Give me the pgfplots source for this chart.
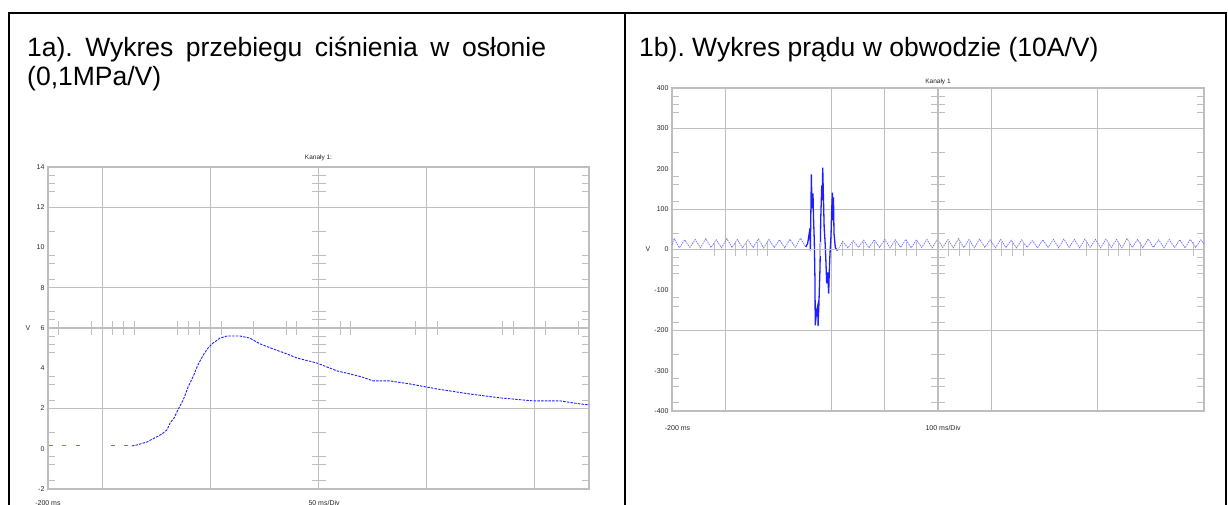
\documentclass[border=0pt]{standalone}
\usepackage{pgfplots}
\pgfplotsset{compat=1.18}
\usepackage{fontspec}
\setmainfont{Liberation Sans}
\frenchspacing
\definecolor{gridgray}{RGB}{190,190,190}
\definecolor{trace}{RGB}{30,30,255}
\definecolor{tracelight}{RGB}{110,110,255}
\pgfplotsset{
  osc/.style={
    scale only axis,
    axis line style={gridgray, line width=1.2pt},
    tick style={gridgray, line width=1pt},
    tick align=inside,
    xtick=\empty,
    major tick length=0pt,
    minor tick length=7pt,
    grid style={gridgray, line width=1pt},
    ticklabel style={font=\fontsize{7}{7}\selectfont, text=black!85},
    extra x tick labels={}, extra y tick labels={},
    extra tick style={grid=major, major tick length=0pt},
    title style={font=\fontsize{6.5}{6.5}\selectfont, text=black!85},
  },
  mid/.style={
    scale only axis,
    axis lines=middle,
    axis line style={gridgray, line width=1.2pt, -},
    tick style={gridgray, line width=1pt},
    major tick length=14pt,
    tick align=center,
    xticklabels={}, yticklabels={},
  },
}
\begin{document}
\begin{tikzpicture}
\useasboundingbox (0pt,0pt) rectangle (1228pt,505pt);
% table frame
\draw[line width=2.2pt] (9pt,-5pt) -- (9pt,492pt) -- (1226pt,492pt) -- (1226pt,-5pt);
\draw[line width=2.2pt] (625pt,492pt) -- (625pt,-5pt);
% headings
\node[anchor=base west, inner sep=0pt, font=\fontsize{26.5}{32}\selectfont] at (27pt,448pt) {\makebox[519pt][s]{1a). Wykres przebiegu ciśnienia w osłonie}};
\node[anchor=base west, inner sep=0pt, font=\fontsize{26.5}{32}\selectfont] at (27pt,419pt) {(0,1MPa/V)};
\node[anchor=base west, inner sep=0pt, font=\fontsize{26.5}{32}\selectfont] at (639pt,448pt) {1b). Wykres prądu w obwodzie (10A/V)};

% ---------------- left plot ----------------
\begin{axis}[osc, width=541pt, height=322pt, at={(48pt,16pt)}, anchor=south west,
  xmin=0, xmax=10, ymin=-2, ymax=14,
  minor xtick={0.2,0.8,1.2,1.4,1.6,2.4,2.6,2.8,3.2,3.8,4.4,4.6,5.4,5.6,6.8,7.2,8.4,8.6,9.2,9.8},
  ytick={-2,0,2,4,6,8,10,12,14},
  yticklabels={-2,0,2,4,6,8,10,12,14},
  minor ytick={13.6,13.2,12.8,10.8,9.6,9.2,8.4,6.8,6.4,5.6,5.2,4.8,3.6,3.2,2.4,0.8,-0.4,-0.8,-1.6},
  extra x ticks={1,3,7,9},
  extra y ticks={2,8,12},
  title={Kanały 1:}, title style={at={(0.5,1)}, anchor=base, yshift=1.5pt},
  clip=false]
\addplot[only marks, mark=-, mark size=2pt, color=tracelight, mark options={line width=1pt}]
  coordinates {(0.05,0.14) (0.3,0.14) (0.55,0.14) (1.2,0.14) (1.45,0.14)};
\addplot[color=trace, line width=0.9pt, dash pattern=on 2.5pt off 1.2pt] coordinates {
(1.55,0.14)(1.65,0.19)(1.83,0.34)(2.01,0.59)(2.11,0.74)(2.20,0.94)(2.26,1.29)(2.33,1.53)
(2.40,1.93)(2.50,2.43)(2.59,3.07)(2.68,3.57)(2.77,4.16)(2.87,4.66)(2.96,5.01)(3.03,5.21)
(3.18,5.50)(3.31,5.60)(3.55,5.60)(3.73,5.50)(3.92,5.21)(4.16,4.96)(4.42,4.71)(4.60,4.51)
(4.97,4.26)(5.34,3.87)(5.58,3.72)(5.80,3.57)(6.01,3.37)(6.32,3.37)(6.69,3.22)(7.19,2.97)
(7.80,2.72)(8.35,2.53)(8.96,2.38)(9.46,2.38)(9.83,2.23)(10.0,2.18)};
\node[anchor=center, font=\fontsize{7}{7}\selectfont, text=black!85] at (axis description cs:-0.037,0.5) {V};
\node[anchor=west, font=\fontsize{7}{7}\selectfont, text=black!85] at (axis description cs:-0.03,-0.043) {-200 ms};
\node[anchor=west, font=\fontsize{7}{7}\selectfont, text=black!85] at (axis description cs:0.475,-0.043) {50 ms/Div};
\end{axis}
\begin{axis}[mid, width=541pt, height=322pt, at={(48pt,16pt)}, anchor=south west,
  xmin=-5, xmax=5, ymin=-8, ymax=8,
  xtick={-4.8,-4.2,-3.8,-3.6,-3.4,-2.6,-2.4,-2.2,-1.8,-1.2,-0.6,-0.4,0.4,0.6,1.8,2.2,3.4,3.6,4.2,4.8},
  ytick={7.6,7.2,6.8,4.8,3.6,3.2,2.4,0.8,0.4,-0.4,-0.8,-1.2,-2.4,-2.8,-3.6,-5.2,-6.4,-6.8,-7.6}]
\end{axis}

% ---------------- right plot ----------------
\begin{axis}[osc, width=532pt, height=323pt, at={(672pt,94pt)}, anchor=south west,
  xmin=0, xmax=10, ymin=-400, ymax=400,
  minor xtick={0.8,1.2,1.4,1.6,1.8,2.8,3.2,3.4,3.6,3.8,4.2,4.4,4.6,5.2,5.4,5.6,6.2,6.4,6.6,7.8,8.2,8.4,8.6,8.8,9.8},
  ytick={-400,-300,-200,-100,0,100,200,300,400},
  yticklabels={-400,-300,-200,-100,0,100,200,300,400},
  minor ytick={380,360,340,240,180,160,120,40,-20,-40,-60,-120,-140,-180,-260,-320,-340,-380},
  extra x ticks={1,3,4,6,8},
  extra y ticks={300,100,-200},
  title={Kanały 1}, title style={at={(0.5,1)}, anchor=base, yshift=-1.5pt},
  clip=false]
\addplot[color=tracelight, line width=0.7pt, dash pattern=on 1.6pt off 0.9pt] coordinates {
(0.00,12)(0.040,27)(0.139,4)(0.238,24)(0.337,5)(0.436,25)(0.535,4)(0.634,27)(0.733,5)
(0.832,24)(0.931,4)(1.030,27)(1.129,5)(1.228,25)(1.327,4)(1.426,24)(1.525,5)(1.624,26)
(1.723,4)(1.822,25)(1.921,5)(2.020,24)(2.119,4)(2.218,25)(2.317,5)(2.416,28)(2.515,6)};
\addplot[color=trace, line width=1.3pt] coordinates {
(2.515,6)(2.55,15)(2.585,45)(2.594,40)(2.600,-2)(2.620,186)(2.630,102)(2.650,139)(2.660,79)
(2.675,20)(2.688,-82)(2.692,-188)(2.720,-150)(2.739,-139)(2.745,-190)(2.760,-140)(2.782,-45)
(2.790,22)(2.795,72)(2.815,159)(2.825,122)(2.833,203)(2.840,164)(2.860,55)(2.876,22)
(2.890,-20)(2.908,-84)(2.925,-57)(2.945,-109)(2.955,-60)(2.970,-10)(2.989,35)(3.000,92)
(3.015,141)(3.021,72)(3.035,129)(3.045,40)(3.070,5)(3.109,-3)};
\addplot[color=tracelight, line width=0.7pt, dash pattern=on 1.6pt off 0.9pt] coordinates {
(3.109,-3)(3.208,20)(3.307,4)(3.406,22)(3.505,5)(3.604,23)(3.703,4)(3.802,24)(3.901,5)
(4.000,25)(4.099,4)(4.198,24)(4.297,5)(4.396,25)(4.495,4)(4.594,24)(4.693,5)(4.792,25)
(4.891,4)(4.990,26)(5.089,5)(5.188,25)(5.287,4)(5.386,27)(5.485,5)(5.584,25)(5.683,4)
(5.782,26)(5.881,5)(5.980,24)(6.079,4)(6.178,25)(6.277,5)(6.376,23)(6.475,4)(6.574,24)
(6.673,5)(6.772,22)(6.871,4)(6.970,24)(7.069,5)(7.168,25)(7.267,4)(7.366,26)(7.465,5)
(7.564,25)(7.663,4)(7.762,26)(7.861,5)(7.960,25)(8.059,4)(8.158,26)(8.257,5)(8.356,25)
(8.455,4)(8.554,27)(8.653,5)(8.752,25)(8.851,4)(8.950,26)(9.049,5)(9.148,24)(9.247,4)
(9.346,25)(9.445,5)(9.544,24)(9.643,4)(9.742,25)(9.841,5)(9.940,24)(10.0,14)};
\node[anchor=center, font=\fontsize{7}{7}\selectfont, text=black!85] at (axis description cs:-0.045,0.5) {V};
\node[anchor=west, font=\fontsize{7}{7}\selectfont, text=black!85] at (axis description cs:-0.02,-0.053) {-200 ms};
\node[anchor=west, font=\fontsize{7}{7}\selectfont, text=black!85] at (axis description cs:0.47,-0.053) {100 ms/Div};
\end{axis}
\begin{axis}[mid, width=532pt, height=323pt, at={(672pt,94pt)}, anchor=south west,
  xmin=-5, xmax=5, ymin=-400, ymax=400,
  xtick={-4.2,-3.8,-3.6,-3.4,-3.2,-2.2,-1.8,-1.6,-1.4,-1.2,-0.8,-0.6,-0.4,0.2,0.4,0.6,1.2,1.4,1.6,2.8,3.2,3.4,3.6,3.8,4.8},
  ytick={380,360,340,240,180,160,120,40,-20,-40,-60,-120,-140,-180,-260,-320,-340,-380}]
\end{axis}
\end{tikzpicture}
\end{document}
